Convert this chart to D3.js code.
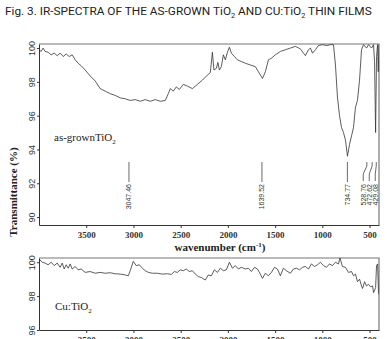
<!DOCTYPE html>
<html>
<head>
<meta charset="utf-8">
<script src="https://cdn.jsdelivr.net/npm/d3@7"></script>
<style>
  body { margin: 0; background: #fff; }
  #chart { width: 387px; height: 339px; overflow: hidden; }
</style>
</head>
<body>
<div id="chart"></div>
<script>
// as-grown TiO2 spectrum
const topWave = [4000,3977,3956,3935,3903,3871,3839,3807,3776,3744,3712,3680,3648,3617,3585,3553,3511,3458,3405,3352,3299,3246,3193,3140,3087,3034,2981,2928,2875,2822,2769,2716,2663,2631,2610,2578,2546,2514,2472,2429,2376,2323,2270,2217,2186,2164,2148,2122,2106,2090,2069,2048,2027,2005,1984,1963,1931,1899,1857,1815,1762,1709,1677,1634,1603,1571,1539,1497,1444,1391,1338,1285,1232,1200,1179,1147,1126,1104,1073,1041,998,956,914,882,861,840,818,797,776,755,734,712,691,670,649,628,606,585,564,532,511,479,458,447,436,426,415,408,400];
const topTrans = [99.9,99.8,100.0,99.8,99.75,99.6,99.7,99.55,99.7,99.5,99.65,99.5,99.6,99.3,99.1,98.95,98.7,98.35,98.05,97.6,97.45,97.3,97.2,97.05,97.0,96.9,96.95,96.85,96.95,96.85,96.95,96.85,96.9,97.3,97.6,97.45,97.7,97.55,97.85,97.75,97.6,97.85,98.1,98.4,98.55,99.75,98.7,98.8,99.15,98.7,98.9,99.6,99.3,99.75,100.05,99.7,99.5,99.3,99.2,99.1,99.0,98.9,98.6,98.2,98.6,99.3,99.4,99.6,99.8,99.9,100.0,100.1,99.95,99.7,99.55,99.9,100.0,99.7,99.9,100.15,100.2,100.15,100.2,100.2,99.0,97.1,96.0,95.3,95.0,94.55,93.6,94.3,94.8,95.3,96.5,96.9,98.1,99.9,100.2,100.0,100.2,100.0,100.2,99.2,95.0,99.5,100.2,98.6,100.2];

// Cu:TiO2 spectrum
const botWave = [4000,3966,3935,3903,3871,3839,3807,3776,3754,3733,3712,3691,3670,3648,3617,3585,3553,3511,3458,3405,3352,3299,3246,3193,3140,3087,3055,3034,3002,2970,2938,2906,2875,2842,2800,2747,2694,2641,2599,2567,2535,2504,2472,2440,2408,2376,2345,2313,2281,2239,2207,2175,2143,2111,2080,2048,2016,1984,1952,1921,1889,1857,1815,1783,1751,1719,1687,1656,1634,1603,1571,1539,1507,1476,1444,1412,1380,1338,1306,1274,1242,1210,1179,1147,1115,1083,1052,1020,988,956,924,893,861,829,813,787,755,723,691,670,649,628,606,585,574,553,532,511,489,468,458,436,426,415,405,400];
const botTrans = [100.2,100.0,99.95,99.85,100.0,99.8,99.95,99.7,99.95,99.6,99.85,99.65,99.9,99.6,99.75,99.55,99.6,99.4,99.45,99.35,99.4,99.35,99.38,99.32,99.3,99.25,99.2,99.5,100.05,99.8,99.85,99.65,99.5,99.4,99.35,99.35,99.3,99.32,99.28,99.45,99.4,99.55,99.5,99.6,99.45,99.5,99.3,99.15,99.1,98.95,99.25,99.2,99.55,99.4,99.65,99.5,99.55,100.0,99.65,99.8,99.6,99.7,99.6,99.65,99.45,99.7,99.6,99.3,99.05,99.35,99.2,99.4,99.7,99.6,99.2,99.65,99.5,99.35,99.6,99.65,99.55,99.7,99.75,99.6,99.9,99.75,99.85,100.0,99.8,99.7,99.9,99.8,100.0,99.9,100.25,99.75,99.7,99.4,99.45,99.2,99.3,98.85,99.0,98.6,98.45,98.85,98.6,98.7,98.55,98.6,98.2,98.5,99.8,99.9,98.2,98.1];

// peak annotations
const peakValues = [3047.46, 1639.52, 734.77, 528.76, 472.62, 429.08];
const peakLabels = ["3047.46", "1639.52", "734.77", "528.76", "472.62", "429.08"];

// ticks
const xTicks = [3500, 3000, 2500, 2000, 1500, 1000, 500];
const topYTicks = [90, 92, 94, 96, 98, 100];
const botYTicks = [96, 98, 100];

const W = 387, H = 339;
const left = 39, right = 379;

const svg = d3.select("#chart").append("svg")
    .attr("width", W).attr("height", H);

// title, sized to span the figure width
const title = svg.append("text")
    .attr("x", 5).attr("y", 15)
    .attr("font-family", "Roboto, sans-serif")
    .attr("font-size", 12)
    .attr("fill", "#222");
title.append("tspan").text("Fig. 3. IR-SPECTRA OF THE AS-GROWN TiO");
title.append("tspan").attr("font-size", "0.62em").attr("dy", 3).text("2");
title.append("tspan").attr("dy", -3).text(" AND CU:TiO");
title.append("tspan").attr("font-size", "0.62em").attr("dy", 3).text("2");
title.append("tspan").attr("dy", -3).text(" THIN FILMS");
const tw = title.node().getComputedTextLength();
title.attr("font-size", 12 * 367 / tw);

const x = d3.scaleLinear().domain([4000, 400]).range([left, right]);

function panel(top, bottom, yDomain, yTicks, wave, trans) {
  const y = d3.scaleLinear().domain(yDomain).range([bottom, top]);
  const g = svg.append("g");

  // top and right frame
  g.append("path")
      .attr("d", `M${left},${top}H${right}V${bottom}`)
      .attr("fill", "none").attr("stroke", "#777").attr("stroke-width", 1.2);

  const clipId = "clip" + top;
  svg.append("clipPath").attr("id", clipId)
    .append("rect").attr("x", left).attr("y", top).attr("width", right - left).attr("height", bottom - top);

  const line = d3.line().x((d, i) => x(wave[i])).y(d => y(d));
  g.append("path")
      .datum(trans)
      .attr("clip-path", `url(#${clipId})`)
      .attr("d", line)
      .attr("fill", "none")
      .attr("stroke", "#333")
      .attr("stroke-width", 0.8);

  // y axis
  const ya = g.append("g")
      .attr("transform", `translate(${left},0)`)
      .call(d3.axisLeft(y).tickValues(yTicks).tickSize(2).tickSizeOuter(0).tickFormat(d3.format("d")));
  ya.select(".domain").attr("stroke", "#333");
  ya.selectAll(".tick line").attr("stroke", "#333");
  ya.selectAll(".tick text")
      .attr("x", 0).attr("dy", 0)
      .attr("transform", "translate(-4,0) rotate(-90)")
      .attr("text-anchor", "middle")
      .attr("font-family", "Liberation Sans, Arial, sans-serif")
      .attr("font-size", 9).attr("fill", "#333");

  // x axis
  const xa = g.append("g")
      .attr("transform", `translate(0,${bottom})`)
      .call(d3.axisBottom(x).tickValues(xTicks).tickSize(3).tickSizeOuter(0).tickFormat(d3.format("d")));
  xa.select(".domain").attr("stroke", "#333").attr("stroke-width", 1.2);
  xa.selectAll(".tick line").attr("stroke", "#333");
  xa.selectAll(".tick text")
      .attr("y", 7)
      .attr("font-family", "Liberation Serif, serif")
      .attr("font-weight", "bold")
      .attr("font-size", 9).attr("fill", "#333");

  return { g, y };
}

const p1 = panel(44, 225, [89.53, 100.24], topYTicks, topWave, topTrans);
const p2 = panel(258, 330, [96, 100.25], botYTicks, botWave, botTrans);

// panel labels
function sampleLabel(g, xPos, yPos, main) {
  const t = g.append("text")
      .attr("x", xPos).attr("y", yPos)
      .attr("font-family", "Liberation Serif, serif")
      .attr("font-size", 11).attr("fill", "#222");
  t.append("tspan").text(main);
  t.append("tspan").attr("font-size", 7).attr("dy", 3).text("2");
}
sampleLabel(p1.g, 54, 141, "as-grownTiO");
sampleLabel(p2.g, 55, 310, "Cu:TiO");

// peak markers
const lineTop = 162, lineBottom = 182;
const close = [3, 4, 5];
peakValues.forEach((v, i) => {
  const px = x(v);
  let lx = px;
  let d;
  if (close.includes(i)) {
    lx = x(peakValues[5]) - 1 - (5 - i) * 6;
    d = `M${px},${lineTop}V${lineTop + 4}L${lx},${lineTop + 12}V${lineBottom - 1}`;
  } else {
    d = `M${px},${lineTop}V${lineBottom}`;
  }
  svg.append("path").attr("d", d)
      .attr("fill", "none").attr("stroke", "#444").attr("stroke-width", 0.8);
  svg.append("text")
      .attr("transform", `translate(${lx + 2.5},${lineBottom + 2}) rotate(-90)`)
      .attr("text-anchor", "end")
      .attr("font-family", "Liberation Sans, Arial, sans-serif")
      .attr("font-size", 7).attr("fill", "#333")
      .text(peakLabels[i]);
});

// axis titles
const xt = svg.append("text")
    .attr("x", 220).attr("y", 251)
    .attr("text-anchor", "middle")
    .attr("font-family", "Liberation Serif, serif")
    .attr("font-weight", "bold").attr("font-size", 11).attr("fill", "#222");
xt.append("tspan").text("wavenumber (cm");
xt.append("tspan").attr("font-size", 7).attr("dy", -4).text("-1");
xt.append("tspan").attr("dy", 4).text(")");

svg.append("text")
    .attr("transform", "translate(17,192) rotate(-90)")
    .attr("text-anchor", "middle")
    .attr("font-family", "Liberation Serif, serif")
    .attr("font-weight", "bold").attr("font-size", 11).attr("fill", "#222")
    .text("Transmittance (%)");
</script>
</body>
</html>
